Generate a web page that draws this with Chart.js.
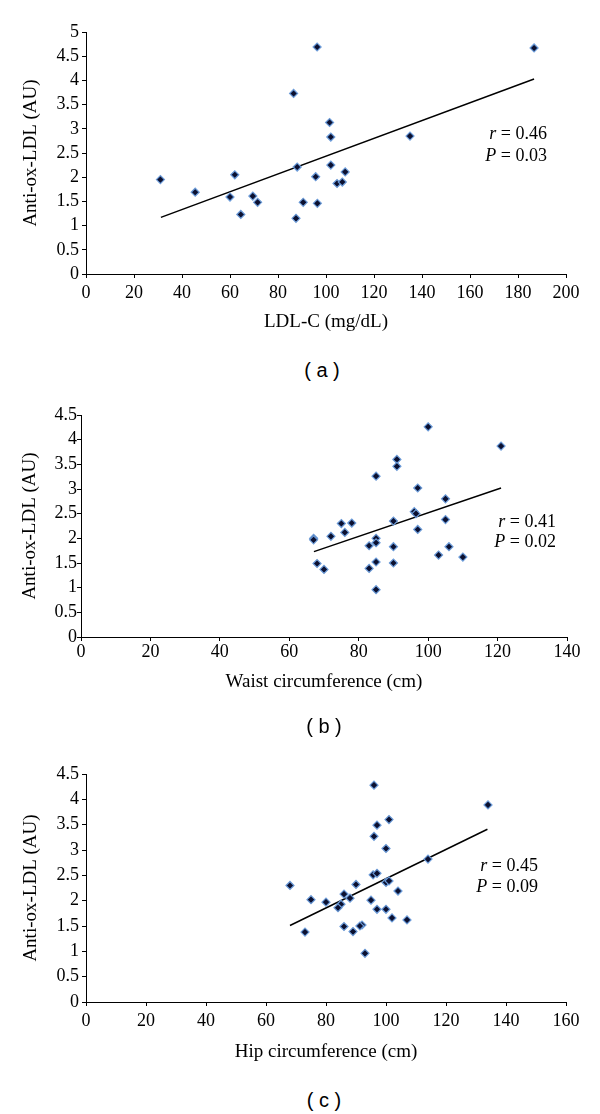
<!DOCTYPE html>
<html>
<head>
<meta charset="utf-8">
<script src="https://cdn.jsdelivr.net/npm/chart.js@4.4.0/dist/chart.umd.min.js"></script>
<style>
  body { margin: 0; background: #fff; width: 600px; height: 1114px; position: relative; overflow: hidden; }
  .panel { position: absolute; left: 0; width: 600px; height: 340px; }
  .stat { position: absolute; font: 18px "Liberation Serif", serif; text-align: right; color: #000; }
  .cap { position: absolute; font: 20px "Liberation Sans", Arial, sans-serif; color: #000;
         transform: translate(-50%, -50%); white-space: pre; }
</style>
</head>
<body>
<div class="panel" style="top:0"><canvas id="chartA" width="600" height="340"></canvas></div>
<div class="stat" style="right:53px;top:122px;line-height:22px"><i>r</i> = 0.46<br><i>P</i> = 0.03</div>
<div class="cap" style="left:322px;top:370px">( a )</div>

<div class="panel" style="top:380px"><canvas id="chartB" width="600" height="340"></canvas></div>
<div class="stat" style="right:44px;top:511px;line-height:20px"><i>r</i> = 0.41<br><i>P</i> = 0.02</div>
<div class="cap" style="left:324px;top:726px">( b )</div>

<div class="panel" style="top:740px"><canvas id="chartC" width="600" height="340"></canvas></div>
<div class="stat" style="right:62px;top:855px;line-height:21px"><i>r</i> = 0.45<br><i>P</i> = 0.09</div>
<div class="cap" style="left:324px;top:1100px">( c )</div>

<script>
// (a) LDL-C
const ldlX = [31, 45.5, 62, 60, 64.5, 69.5, 71.5, 86.5, 88, 87.5, 96.3, 186.7, 101.5, 102, 135, 102, 95.7, 108, 104.6, 106.8, 90.5, 96.4];
const ldlY = [1.95, 1.69, 2.05, 1.59, 1.23, 1.61, 1.48, 3.73, 2.21, 1.15, 4.69, 4.67, 3.13, 2.83, 2.85, 2.25, 2.01, 2.11, 1.87, 1.9, 1.48, 1.46];
const ldlFitX = [31.2, 186.7];
const ldlFitY = [1.17, 4.03];

// (b) waist
const waistX = [100, 121, 91, 91, 85, 97, 105, 96, 96.5, 105, 90, 97, 75, 78, 76, 72, 67, 67, 85, 85, 83, 90, 106, 103, 110, 68, 70, 83, 85, 90, 85];
const waistY = [4.26, 3.87, 3.6, 3.46, 3.26, 3.02, 2.8, 2.54, 2.5, 2.38, 2.35, 2.18, 2.3, 2.31, 2.12, 2.04, 2.0, 1.97, 2.0, 1.91, 1.85, 1.83, 1.83, 1.66, 1.62, 1.49, 1.37, 1.39, 1.52, 1.5, 0.96];
const waistFitX = [67.1, 121];
const waistFitY = [1.73, 3.02];

// (c) hip
const hipX = [68, 96, 134, 101, 97, 96, 100, 114, 95.7, 97, 90, 100, 101, 104, 75, 80, 86, 88, 85, 84, 95, 97, 100, 102, 107, 86, 92, 91.3, 89, 73, 93];
const hipY = [2.3, 4.28, 3.89, 3.6, 3.49, 3.27, 3.03, 2.82, 2.51, 2.54, 2.32, 2.36, 2.39, 2.19, 2.02, 1.97, 2.13, 2.05, 1.93, 1.86, 2.01, 1.83, 1.83, 1.66, 1.62, 1.49, 1.52, 1.5, 1.39, 1.38, 0.96];
const hipFitX = [68, 133.8];
const hipFitY = [1.51, 3.41];

const yTitle = "Anti-ox-LDL (AU)";
const serif = '"Liberation Serif", "Times New Roman", serif';

function makeChart(id, xs, ys, fitX, fitY, o) {
  const pts = xs.map((x, i) => ({ x, y: ys[i] }));
  const fit = fitX.map((x, i) => ({ x, y: fitY[i] }));
  const axisGrid = { display: true, drawOnChartArea: false, drawTicks: true, tickLength: 4, color: "#000", lineWidth: 1 };
  return new Chart(document.getElementById(id), {
    type: "scatter",
    data: {
      datasets: [
        { data: fit, showLine: true, borderColor: "#000", borderWidth: 1.5, pointRadius: 0, fill: false, order: 1 },
        { data: pts, pointStyle: "rectRot", pointRadius: 4, backgroundColor: "#0b1030",
          borderColor: "#6a9ad8", borderWidth: 1.2, order: 0 },
      ],
    },
    options: {
      responsive: false,
      animation: false,
      layout: { padding: { left: 0, right: o.right, top: o.top, bottom: 0 } },
      plugins: { legend: { display: false }, tooltip: { enabled: false } },
      scales: {
        x: {
          type: "linear", min: 0, max: o.xMax,
          grid: axisGrid,
          border: { display: true, color: "#000", width: 1 },
          ticks: { stepSize: 20, autoSkip: false, maxRotation: 0, color: "#000", padding: o.xTickPad,
                   font: { family: serif, size: 18 } },
          title: { display: true, text: o.xTitle, color: "#000", padding: { top: 0, bottom: o.xTitlePad },
                   font: { family: serif, size: 19 } },
          afterFit: (s) => { s.height = o.xH; },
        },
        y: {
          type: "linear", min: 0, max: o.yMax,
          grid: axisGrid,
          border: { display: true, color: "#000", width: 1 },
          ticks: { stepSize: 0.5, autoSkip: false, color: "#000", padding: o.yTickPad,
                   font: { family: serif, size: 18 },
                   callback: (v) => String(+v.toFixed(1)) },
          title: { display: true, text: yTitle, color: "#000", padding: { top: o.yTitlePad, bottom: 0 },
                   font: { family: serif, size: 19 } },
          afterFit: (s) => { s.width = o.yW; },
        },
      },
    },
  });
}

makeChart("chartA", ldlX, ldlY, ldlFitX, ldlFitY,
  { xTitle: "LDL-C (mg/dL)", xMax: 200, yMax: 5, yW: 86, right: 34, top: 32, xH: 66,
    xTitlePad: 6.6, yTitlePad: 20, xTickPad: 4, yTickPad: 3 });
makeChart("chartB", waistX, waistY, waistFitX, waistFitY,
  { xTitle: "Waist circumference (cm)", xMax: 140, yMax: 4.5, yW: 81, right: 33, top: 35, xH: 83,
    xTitlePad: 26.6, yTitlePad: 19, xTickPad: 0, yTickPad: 0 });
makeChart("chartC", hipX, hipY, hipFitX, hipFitY,
  { xTitle: "Hip circumference (cm)", xMax: 160, yMax: 4.5, yW: 86, right: 34, top: 34, xH: 78,
    xTitlePad: 16.6, yTitlePad: 20, xTickPad: 4, yTickPad: 3 });
</script>
</body>
</html>
